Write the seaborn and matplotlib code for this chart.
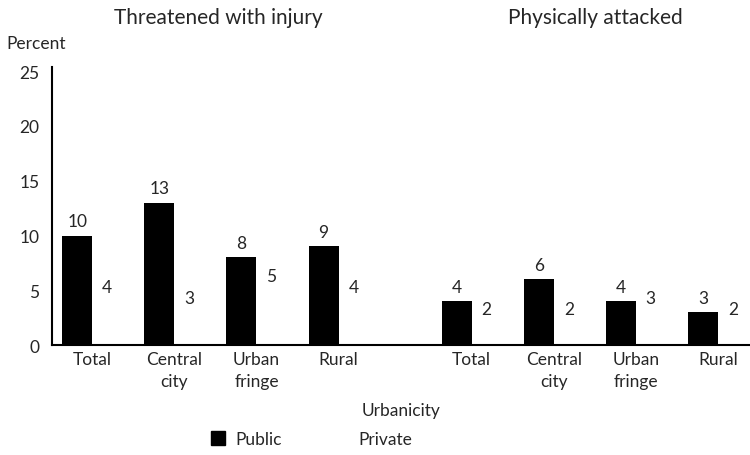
import numpy as np
import pandas as pd
import matplotlib
matplotlib.use("Agg")
import matplotlib.pyplot as plt
import seaborn as sns
from matplotlib.patches import Patch

# --------------------------------
# Data
# --------------------------------
panels = ["Threatened with injury", "Physically attacked"]
locations = ["Total", "Central\ncity", "Urban\nfringe", "Rural"]
threatened_public = [10, 13, 8, 9]
threatened_private = [4, 3, 5, 4]
attacked_public = [4, 6, 4, 3]
attacked_private = [2, 2, 3, 2]

# gap between the two panels, in group widths
panel_gap = 0.62

rows = []
for p, (pub, priv) in enumerate([(threatened_public, threatened_private),
                                 (attacked_public, attacked_private)]):
    for i, loc in enumerate(locations):
        pos = i + p * (len(locations) + panel_gap)
        rows.append({"pos": pos, "label": loc, "Sector": "Public", "value": pub[i]})
        rows.append({"pos": pos, "label": loc, "Sector": "Private", "value": priv[i]})
df = pd.DataFrame(rows)

# --------------------------------
# Plot
# --------------------------------
sns.set_style("white")
plt.rcParams["font.family"] = ["Lato", "DejaVu Sans"]

fig = plt.figure(figsize=(7.5, 4.56), dpi=100)
ax = fig.add_axes([0.0693, 0.241, 0.9307, 0.6105])

sns.barplot(
    data=df, x="pos", y="value", hue="Sector",
    hue_order=["Public", "Private"],
    palette={"Public": "black", "Private": "white"},
    native_scale=True, width=0.73, dodge=True,
    linewidth=0, saturation=1, legend=False, ax=ax,
)

for cont in ax.containers:
    ax.bar_label(cont, fmt="%g", padding=4.5, fontsize=12.5)

ticks = sorted(df["pos"].unique())
ax.set_xticks(ticks)
ax.set_xticklabels(locations * 2, fontsize=12.5, linespacing=1.45)
ax.set_yticks([0, 5, 10, 15, 20, 25])
ax.tick_params(axis="both", length=0, labelsize=12.5)
ax.tick_params(axis="x", pad=4)
ax.tick_params(axis="y", pad=9)
ax.set_xlim(-0.49, ticks[-1] + 0.39)
ax.set_ylim(0, 25.4)
ax.set_xlabel("Urbanicity", fontsize=12.5, labelpad=10)
ax.set_ylabel("")

for s in ["top", "right"]:
    ax.spines[s].set_visible(False)
for s in ["left", "bottom"]:
    ax.spines[s].set_color("black")
    ax.spines[s].set_linewidth(1.5)

fig.text(218 / 750, 1 - 18 / 456, panels[0], ha="center", va="center", fontsize=15)
fig.text(595 / 750, 1 - 18 / 456, panels[1], ha="center", va="center", fontsize=15)
fig.text(6 / 750, 1 - 44 / 456, "Percent", ha="left", va="center", fontsize=12.5)

handles = [Patch(facecolor="black", edgecolor="black"),
           Patch(facecolor="white", edgecolor="white")]
fig.legend(handles, ["Public", "Private"], loc="center",
           bbox_to_anchor=(312 / 750, 1 - 440 / 456), ncol=2, frameon=False,
           fontsize=12.5, handlelength=0.8, handleheight=0.8,
           handletextpad=0.6, columnspacing=3.0)

fig.savefig("out.png", dpi=100)
